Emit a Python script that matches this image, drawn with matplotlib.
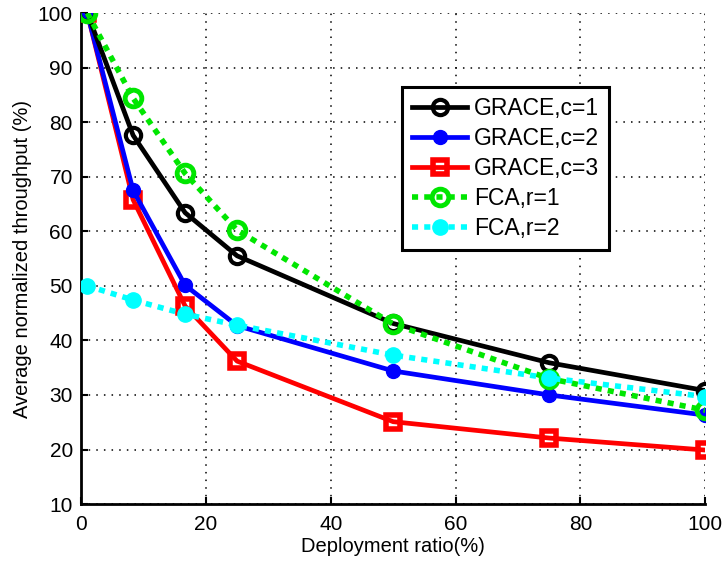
import matplotlib
matplotlib.use("Agg")
import matplotlib.pyplot as plt

plt.rcParams['font.family'] = ['Liberation Sans', 'DejaVu Sans']

ratio = [1, 8.33, 16.67, 25, 50, 75, 100]
grace_c1 = [100, 77.6, 63.4, 55.5, 43.1, 35.9, 30.8]
grace_c2 = [100, 67.5, 50.1, 42.7, 34.4, 30.0, 26.3]
grace_c3 = [100, 65.8, 46.3, 36.2, 25.1, 22.1, 19.9]
fca_r1 = [100, 84.4, 70.6, 60.2, 43.0, 33.0, 27.2]
fca_r2 = [50.0, 47.4, 44.8, 42.8, 37.3, 33.1, 29.7]

xticks = [0, 20, 40, 60, 80, 100]
yticks = [10, 20, 30, 40, 50, 60, 70, 80, 90, 100]

fig = plt.figure(figsize=(7.24, 5.67), dpi=100)
ax = fig.add_axes([0.112, 0.111, 0.862, 0.866])

lw = 3.4
ax.plot(ratio, grace_c1, color='black', lw=lw, marker='o', ms=11,
        mfc='none', mew=3, label='GRACE,c=1', zorder=5)
ax.plot(ratio, grace_c2, color='blue', lw=lw, marker='o', ms=10,
        mfc='blue', mec='blue', label='GRACE,c=2', zorder=4)
ax.plot(ratio, grace_c3, color='red', lw=lw, marker='s', ms=10,
        mfc='none', mew=4, label='GRACE,c=3', zorder=3)
ax.plot(ratio, fca_r1, color='#00e600', lw=lw + 0.6, ls=(0, (1.1, 1.1)),
        marker='o', ms=12, mfc='none', mew=3.5, label='FCA,r=1', zorder=6)
ax.plot(ratio, fca_r2, color='cyan', lw=lw + 0.6, ls=(0, (1.1, 1.1)),
        marker='o', ms=11, mfc='cyan', mec='cyan', label='FCA,r=2', zorder=7)

ax.set_xlim(0, 100)
ax.set_ylim(10, 100)
ax.set_xticks(xticks)
ax.set_yticks(yticks)
ax.tick_params(direction='in', length=5, width=1.5, labelsize=15,
               top=False, right=False, pad=6)
ax.tick_params(axis='x', pad=8)
ax.grid(True, color='black', linestyle=(0, (1, 4)), linewidth=1.1)

for side in ('top', 'right'):
    ax.spines[side].set_visible(False)
for side in ('left', 'bottom'):
    ax.spines[side].set_linewidth(2)

ax.set_xlabel('Deployment ratio(%)', fontsize=14.5, labelpad=2)
ax.set_ylabel('Average normalized throughput (%)', fontsize=14.5, labelpad=4)

leg = ax.legend(loc='upper left', bbox_to_anchor=(0.514, 0.849),
                fontsize=16.5, fancybox=False, framealpha=1,
                edgecolor='black', handlelength=2.4, borderpad=0.45,
                labelspacing=0.3, handletextpad=0.3, borderaxespad=0)
leg.get_frame().set_linewidth(2.2)

fig.savefig('out.png', dpi=100)
